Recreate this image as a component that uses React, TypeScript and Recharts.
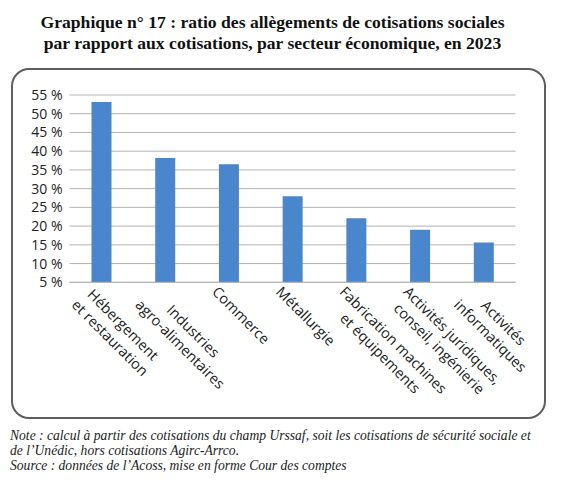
import React from 'react';
import { BarChart, Bar, XAxis, YAxis, CartesianGrid } from 'recharts';

// secteurs (retour à la ligne = \n), ratios en %
const sectors = [
  'Hébergement\net restauration',
  'Industries\nagro-alimentaires',
  'Commerce',
  'Métallurgie',
  'Fabrication machines\net équipements',
  'Activités juridiques,\nconseil, ingénierie',
  'Activités\ninformatiques',
];
const ratios = [53.1, 38.2, 36.5, 28.0, 22.1, 19.0, 15.6];
const yTicks = [5, 10, 15, 20, 25, 30, 35, 40, 45, 50, 55];

const titleLines = [
  'Graphique n° 17 : ratio des allègements de cotisations sociales',
  'par rapport aux cotisations, par secteur économique, en 2023',
];
const noteLines = [
  'Note : calcul à partir des cotisations du champ Urssaf, soit les cotisations de sécurité sociale et',
  'de l’Unédic, hors cotisations Agirc-Arrco.',
  'Source : données de l’Acoss, mise en forme Cour des comptes',
];

const LABEL_FONT = '"Open Sans", sans-serif';
const LABEL_SIZE = 14.5;
const SERIF = 'Liberation Serif, Times New Roman, Times, serif';

let ctx: CanvasRenderingContext2D | null = null;
function textWidth(s: string): number {
  if (!ctx) {
    ctx = document.createElement('canvas').getContext('2d');
    if (ctx) ctx.font = `${LABEL_SIZE}px "Open Sans"`;
  }
  return ctx ? ctx.measureText(s).width : s.length * 7;
}

// étiquettes inclinées à 45°, lignes centrées comme dans Excel
function SectorTick({ x, y, payload }: any) {
  const lines: string[] = String(payload.value).split('\n');
  const w = Math.max(...lines.map(textWidth));
  return (
    <g transform={`translate(${x - 9},${y + 2}) rotate(45)`}>
      <text fontSize={LABEL_SIZE} fontFamily={LABEL_FONT} fill="#222">
        {lines.map((l, i) => (
          <tspan key={i} x={w / 2} y={12 + i * 18.5} textAnchor="middle">
            {l}
          </tspan>
        ))}
      </text>
    </g>
  );
}

export default function App() {
  const data = sectors.map((s, i) => ({ secteur: s, ratio: ratios[i] }));

  return (
    <div style={{ position: 'absolute', left: 0, top: 0, width: 561, height: 480, background: '#fff' }}>
      <div
        style={{
          position: 'absolute',
          left: 11,
          top: 68,
          width: 535,
          height: 351,
          border: '2px solid #5e5e5e',
          borderRadius: 18,
          boxSizing: 'border-box',
        }}
      />

      <div style={{ position: 'absolute', left: 0, top: 0 }}>
        <BarChart
          width={561}
          height={480}
          data={data}
          margin={{ top: 95, right: 45.5, bottom: 167.7, left: 0 }}
        >
          <CartesianGrid horizontal vertical={false} stroke="#b3b3b3" />
          <YAxis
            type="number"
            domain={[5, 55]}
            ticks={yTicks}
            interval={0}
            allowDataOverflow
            width={69.5}
            tickSize={0}
            tickMargin={7}
            axisLine={false}
            tickLine={false}
            tickFormatter={(v) => `${v} %`}
            tick={{ fontSize: 14, fontFamily: LABEL_FONT, fill: '#222' }}
          />
          <XAxis
            dataKey="secteur"
            height={30}
            interval={0}
            tickSize={0}
            tickMargin={0}
            tickLine={false}
            axisLine={{ stroke: '#b3b3b3' }}
            tick={<SectorTick />}
          />
          <Bar dataKey="ratio" fill="#4a86cc" barSize={20} isAnimationActive={false} />
        </BarChart>
      </div>

      <svg
        width={561}
        height={480}
        style={{ position: 'absolute', left: 0, top: 0, pointerEvents: 'none' }}
      >
        {titleLines.map((t, i) => (
          <text
            key={i}
            x={272.5}
            y={27.5 + i * 21.5}
            textAnchor="middle"
            style={{ fontFamily: SERIF, fontWeight: 'bold', fontSize: 17.6 }}
            fill="#111"
          >
            {t}
          </text>
        ))}
        {noteLines.map((t, i) => (
          <text
            key={i}
            x={10}
            y={440 + i * 15}
            style={{ fontFamily: SERIF, fontStyle: 'italic', fontSize: 13.6 }}
            fill="#222"
          >
            {t}
          </text>
        ))}
      </svg>
    </div>
  );
}
